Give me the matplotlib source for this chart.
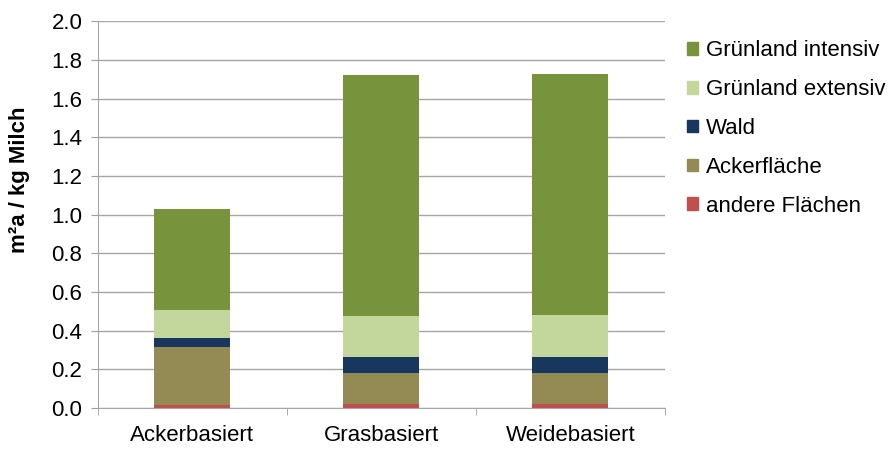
import numpy as np
import matplotlib.pyplot as plt
from matplotlib.patches import Patch

plt.rcParams['font.family'] = ['Liberation Sans', 'DejaVu Sans']

systeme = ['Ackerbasiert', 'Grasbasiert', 'Weidebasiert']

# Flaechenbedarf je Kategorie (m2a / kg Milch), von unten nach oben gestapelt
andere = [0.017, 0.022, 0.020]
acker = [0.300, 0.158, 0.160]
wald = [0.048, 0.084, 0.082]
gl_extensiv = [0.142, 0.212, 0.219]
gl_intensiv = [0.523, 1.244, 1.245]

serien = [
    ('andere Flächen', andere, '#C0504D'),
    ('Ackerfläche', acker, '#948A54'),
    ('Wald', wald, '#17375E'),
    ('Grünland extensiv', gl_extensiv, '#C3D69B'),
    ('Grünland intensiv', gl_intensiv, '#77933C'),
]

fs = 16

fig = plt.figure(figsize=(8.96, 4.5), dpi=100)
ax = fig.add_axes([0.109, 0.093, 0.633, 0.86])

x = np.arange(len(systeme))
unten = np.zeros(len(systeme))
for name, werte, farbe in serien:
    ax.bar(x, werte, bottom=unten, width=0.4, color=farbe, zorder=3)
    unten += np.array(werte)

ax.set_xlim(-0.5, 2.5)
ax.set_ylim(0, 2.0)
ax.set_yticks(np.arange(0, 2.01, 0.2))
ax.set_yticklabels([f'{v:.1f}' for v in np.arange(0, 2.01, 0.2)], fontsize=fs)
ax.set_xticks(x)
ax.set_xticklabels(systeme, fontsize=fs)
ax.set_xticks([-0.5, 0.5, 1.5, 2.5], minor=True)
ax.tick_params(axis='x', which='major', length=0, pad=12)
ax.tick_params(axis='x', which='minor', length=5, color='#A0A0A0')
ax.tick_params(axis='y', length=5, color='#A0A0A0', pad=6)

ax.grid(axis='y', color='#A6A6A6', linewidth=1, zorder=0)
for s in ['top', 'right']:
    ax.spines[s].set_visible(False)
ax.spines['left'].set_color('#A6A6A6')
ax.spines['bottom'].set_color('#A6A6A6')

ax.set_ylabel('m²a / kg Milch', fontsize=16, fontweight='bold')
ax.yaxis.set_label_coords(-0.12, 0.589)

handles = [Patch(color=f, label=n) for n, _, f in reversed(serien)]
fig.legend(handles=handles, loc='upper left', bbox_to_anchor=(0.757, 0.93),
           frameon=False, fontsize=fs, handlelength=0.5, handleheight=0.5,
           handletextpad=0.35, labelspacing=0.8, borderaxespad=0)

fig.savefig('out.png', dpi=100)
